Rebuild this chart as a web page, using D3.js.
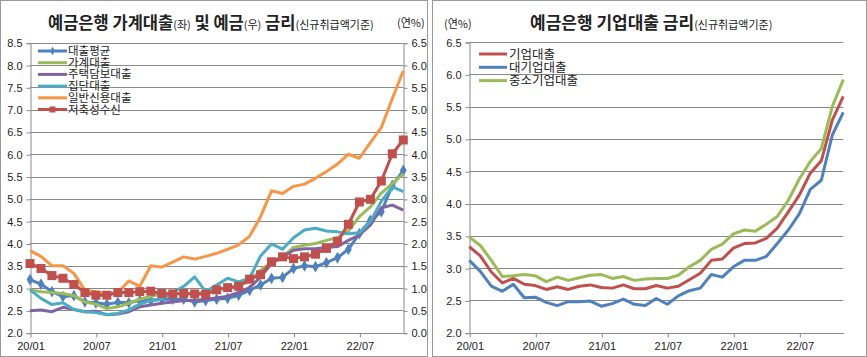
<!DOCTYPE html>
<html><head><meta charset="utf-8">
<script src="https://cdn.jsdelivr.net/npm/d3@7"></script>
<style>
body{margin:0;background:#fff;}
svg{display:block;font-family:"Noto Sans CJK KR","Noto Sans",sans-serif;}
</style></head>
<body><svg id="c" width="867" height="357"></svg>
<script>
const months = ["20/01","20/02","20/03","20/04","20/05","20/06","20/07","20/08","20/09","20/10","20/11","20/12",
"21/01","21/02","21/03","21/04","21/05","21/06","21/07","21/08","21/09","21/10","21/11","21/12",
"22/01","22/02","22/03","22/04","22/05","22/06","22/07","22/08","22/09","22/10","22/11"];
const tickMonths = ["20/01","20/07","21/01","21/07","22/01","22/07"];

// Left chart (left axis)
const loanAvg   = [3.19,3.09,2.92,2.81,2.83,2.69,2.67,2.64,2.68,2.67,2.72,2.72,2.75,2.75,2.75,2.69,2.72,2.75,2.77,2.84,2.95,3.07,3.22,3.24,3.44,3.50,3.48,3.57,3.68,3.87,4.22,4.52,4.71,5.30,5.64];
const household = [2.96,2.92,2.90,2.88,2.83,2.69,2.64,2.54,2.58,2.66,2.75,2.81,2.88,2.87,2.88,2.86,2.92,2.97,3.00,3.05,3.15,3.40,3.58,3.70,3.91,3.96,4.00,4.07,4.13,4.28,4.60,4.82,5.13,5.34,5.56];
const mortgage  = [2.49,2.51,2.47,2.57,2.52,2.47,2.48,2.40,2.42,2.47,2.58,2.62,2.66,2.69,2.72,2.72,2.75,2.78,2.82,2.90,3.01,3.25,3.55,3.69,3.85,3.88,3.88,3.91,3.93,4.07,4.19,4.41,4.80,4.86,4.75];
const groupLoan = [2.96,2.77,2.63,2.67,2.52,2.47,2.45,2.41,2.43,2.51,2.64,2.72,2.75,2.90,3.04,3.25,2.92,3.07,3.22,3.14,3.22,3.72,3.99,3.87,4.13,4.30,4.34,4.28,4.26,4.22,4.24,4.49,4.95,5.27,5.16];
const creditLoan= [3.84,3.71,3.50,3.50,3.33,2.95,2.92,2.88,2.90,3.16,3.04,3.50,3.47,3.58,3.70,3.65,3.71,3.78,3.87,3.97,4.16,4.60,5.18,5.12,5.28,5.33,5.46,5.61,5.78,6.00,5.91,6.26,6.60,7.25,7.87];
// Left chart (right axis)
const deposit   = [1.55,1.44,1.28,1.22,1.08,0.90,0.84,0.84,0.90,0.90,0.92,0.93,0.88,0.87,0.88,0.87,0.86,0.96,1.01,1.04,1.20,1.30,1.59,1.70,1.66,1.70,1.76,1.89,2.05,2.43,2.93,2.99,3.40,4.01,4.32];

// Right chart
const corpLoan  = [3.33,3.19,2.94,2.77,2.84,2.75,2.73,2.67,2.71,2.67,2.72,2.74,2.70,2.69,2.74,2.68,2.68,2.73,2.69,2.72,2.82,2.92,3.12,3.14,3.31,3.38,3.39,3.46,3.62,3.87,4.13,4.47,4.66,5.29,5.66];
const largeCorp = [3.12,2.95,2.72,2.64,2.75,2.54,2.55,2.47,2.42,2.48,2.48,2.49,2.41,2.45,2.52,2.44,2.42,2.53,2.44,2.57,2.65,2.69,2.90,2.86,3.02,3.12,3.12,3.18,3.38,3.59,3.84,4.22,4.36,5.06,5.41];
const smeLoan   = [3.48,3.35,3.12,2.87,2.88,2.90,2.88,2.79,2.86,2.81,2.85,2.89,2.90,2.84,2.87,2.81,2.83,2.84,2.84,2.89,3.02,3.12,3.29,3.37,3.53,3.59,3.57,3.68,3.80,4.05,4.38,4.65,4.85,5.50,5.92];

const leftTicks  = d3.range(2.0, 8.51, 0.5);
const rightTicks = d3.range(0.0, 6.51, 0.5);
const corpTicks  = d3.range(2.0, 6.51, 0.5);

const C = {blue:"#4F81BD", red:"#C0504D", green:"#9BBB59", purple:"#8064A2", teal:"#4BACC6", orange:"#F79646"};
const GRID = "#8a8a8a";

const svg = d3.select("#c");

// panel frames
svg.append("rect").attr("x",0.5).attr("y",0.5).attr("width",427).attr("height",356).attr("fill","none").attr("stroke","#9a9a9a");
svg.append("rect").attr("x",432.5).attr("y",0.5).attr("width",434).attr("height",356).attr("fill","none").attr("stroke","#9a9a9a");

function drawPanel(o){
  const g = svg.append("g");
  const x = d3.scalePoint().domain(months).range([o.x0,o.x1]);
  const y = d3.scaleLinear().domain(o.yDom).range([o.yb,o.yt]);
  g.selectAll(".gl").data(o.yTicks.filter(t=>t>o.yDom[0])).join("line")
    .attr("x1",o.x0).attr("x2",o.x1)
    .attr("y1",d=>Math.round(y(d))+0.5).attr("y2",d=>Math.round(y(d))+0.5)
    .attr("stroke",GRID).attr("stroke-width",1);
  const ya = d3.axisLeft(y).tickValues(o.yTicks).tickFormat(d3.format(".1f")).tickSize(4).tickPadding(4);
  const yag = g.append("g").attr("transform",`translate(${Math.round(o.x0)+0.5},0.5)`).call(ya);
  yag.select(".domain").attr("stroke",GRID);
  yag.selectAll(".tick line").attr("stroke",GRID);
  yag.selectAll("text").attr("font-size",11).attr("fill","#222").attr("font-family","Liberation Sans, Arial, sans-serif");
  const xa = d3.axisBottom(x).tickValues(tickMonths).tickSize(4).tickPadding(5);
  const xag = g.append("g").attr("transform",`translate(0.5,${Math.round(o.yb)+0.5})`).call(xa);
  xag.select(".domain").attr("stroke",GRID).attr("d",`M${o.x0},0H${o.x1}`);
  xag.selectAll(".tick line").attr("stroke",GRID);
  xag.selectAll("text").attr("font-size",11).attr("fill","#222").attr("font-family","Liberation Sans, Arial, sans-serif");
  return {g,x,y};
}

// ---------- Left chart ----------
const L = drawPanel({x0:30, x1:403.3, yb:332.7, yt:42.7, yDom:[2.0,8.5], yTicks:leftTicks});
const yR = d3.scaleLinear().domain([0,6.5]).range([332.7,42.7]);
{
  const ra = d3.axisRight(yR).tickValues(rightTicks).tickFormat(d3.format(".1f")).tickSize(4).tickPadding(4);
  const rag = L.g.append("g").attr("transform","translate(403.5,0.5)").call(ra);
  rag.select(".domain").attr("stroke",GRID);
  rag.selectAll(".tick line").attr("stroke",GRID);
  rag.selectAll("text").attr("font-size",11).attr("fill","#222").attr("font-family","Liberation Sans, Arial, sans-serif");
}
const leftSeries = [
  {name:"대출평균", vals:loanAvg, color:C.blue, marker:"diamond"},
  {name:"가계대출", vals:household, color:C.green},
  {name:"주택담보대출", vals:mortgage, color:C.purple},
  {name:"집단대출", vals:groupLoan, color:C.teal},
  {name:"일반신용대출", vals:creditLoan, color:C.orange},
  {name:"저축성수신", vals:deposit, color:C.red, marker:"square", right:true}
];
function drawLines(P, series, yRight){
  series.forEach(s=>{
    const yy = s.right ? yRight : P.y;
    const line = d3.line().x((d,i)=>P.x(months[i])).y(d=>yy(d));
    P.g.append("path").datum(s.vals).attr("d",line).attr("fill","none")
      .attr("stroke",s.color).attr("stroke-width",3).attr("stroke-linejoin","round");
    if(s.marker==="diamond"){
      P.g.selectAll(null).data(s.vals).join("path")
        .attr("d",d3.symbol(d3.symbolDiamond,40))
        .attr("transform",(d,i)=>`translate(${P.x(months[i])},${yy(d)})`)
        .attr("fill",s.color);
    } else if(s.marker==="square"){
      P.g.selectAll(null).data(s.vals).join("rect")
        .attr("x",(d,i)=>P.x(months[i])-4.5).attr("y",d=>yy(d)-4.5)
        .attr("width",9).attr("height",9).attr("fill",s.color);
    }
  });
}
drawLines(L, leftSeries, yR);

// legend left
leftSeries.forEach((s,i)=>{
  const yy = 51 + i*11.7;
  svg.append("line").attr("x1",38).attr("x2",67).attr("y1",yy).attr("y2",yy).attr("stroke",s.color).attr("stroke-width",3);
  if(s.marker==="diamond") svg.append("path").attr("d",d3.symbol(d3.symbolDiamond,20)).attr("transform",`translate(52.5,${yy})`).attr("fill",s.color);
  if(s.marker==="square") svg.append("rect").attr("x",49.5).attr("y",yy-3).attr("width",6).attr("height",6).attr("fill",s.color);
  svg.append("text").attr("x",68).attr("y",yy+4).attr("font-size",11.5).attr("fill","#222").text(s.name);
});

// title left
{
  const t = svg.append("text").attr("x",48).attr("y",29).attr("fill","#222");
  const parts = [["예금은행 가계대출",16.5,"bold"],["(좌)",11,"normal"],[" 및 예금",16.5,"bold"],["(우)",11,"normal"],[" 금리",16.5,"bold"],["(신규취급액기준)",11,"normal"]];
  parts.forEach(p=>t.append("tspan").attr("font-size",p[1]).attr("font-weight",p[2]).text(p[0]));
  svg.append("text").attr("x",397).attr("y",27).attr("font-size",11).attr("fill","#222").text("(연%)");
}

// ---------- Right chart ----------
const R = drawPanel({x0:469.3, x1:843.3, yb:332.7, yt:42, yDom:[2.0,6.5], yTicks:corpTicks});
const rightSeries = [
  {name:"기업대출", vals:corpLoan, color:C.red},
  {name:"대기업대출", vals:largeCorp, color:C.blue},
  {name:"중소기업대출", vals:smeLoan, color:C.green}
];
drawLines(R, rightSeries, null);
rightSeries.forEach((s,i)=>{
  const yy = 54 + i*13.3;
  svg.append("line").attr("x1",479).attr("x2",507).attr("y1",yy).attr("y2",yy).attr("stroke",s.color).attr("stroke-width",3);
  svg.append("text").attr("x",509).attr("y",yy+4.5).attr("font-size",12.5).attr("fill","#222").text(s.name);
});
{
  const t = svg.append("text").attr("x",530).attr("y",29).attr("fill","#222");
  [["예금은행 기업대출 금리",17,"bold"],["(신규취급액기준)",11,"normal"]].forEach(p=>t.append("tspan").attr("font-size",p[1]).attr("font-weight",p[2]).text(p[0]));
  svg.append("text").attr("x",444).attr("y",28).attr("font-size",11).attr("fill","#222").text("(연%)");
}
</script></body></html>
